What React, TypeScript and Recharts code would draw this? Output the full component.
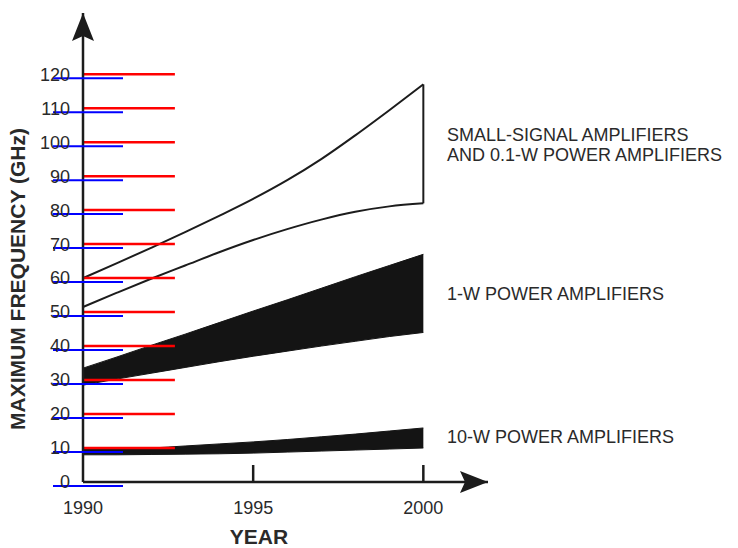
import React from 'react';
import { ComposedChart, Area, XAxis, YAxis, ReferenceLine } from 'recharts';

const years = [1990, 1991, 1992, 1993, 1994, 1995, 1996, 1997, 1998, 1999, 2000];
// small-signal and 0.1-W band (outlined)
const smallSignalHigh = [60, 64.4, 68.9, 73.5, 78.3, 83.3, 88.8, 95, 102, 109.4, 117];
const smallSignalLow = [51.5, 55.7, 59.8, 63.7, 67.6, 71.2, 74.4, 77.2, 79.5, 81.1, 82];
// 1-W band (solid)
const oneWattHigh = [33.5, 36.8, 40.2, 43.5, 46.9, 50.3, 53.6, 57, 60.4, 63.7, 67];
const oneWattLow = [28.5, 30.3, 32, 33.7, 35.4, 37, 38.5, 40, 41.4, 42.8, 44];
// 10-W band (solid)
const tenWattHigh = [9.8, 9.7, 10, 10.6, 11.2, 11.8, 12.5, 13.3, 14.1, 15, 15.9];
const tenWattLow = [8, 8, 8.1, 8.2, 8.3, 8.5, 8.8, 9.1, 9.4, 9.7, 10];

const yTicks = [0, 10, 20, 30, 40, 50, 60, 70, 80, 90, 100, 110, 120];
const xTicks = [1990, 1995, 2000];

const INK = '#1c1c1c';
const TEXT = '#2a2a2a';
const FONT = '"Liberation Sans", Arial, Helvetica, sans-serif';
const Y_TICK_LEN = 0.45;

const data = years.map((year, i) => ({
  year,
  small: [smallSignalLow[i], smallSignalHigh[i]],
  oneW: [oneWattLow[i], oneWattHigh[i]],
  tenW: [tenWattLow[i], tenWattHigh[i]],
}));

const last = years.length - 1;

function YTick(props: any) {
  const x = Number(props.x);
  const y = Number(props.y);
  return (
    <g>
      <line x1={x - 30} x2={x + 40} y1={y + 4} y2={y + 4} stroke="blue" strokeWidth={2} />
      <text x={x - 13} y={y} dy={6.4} textAnchor="end" fontSize={18} fill={TEXT} fontFamily={FONT}>
        {props.payload.value}
      </text>
    </g>
  );
}

function XTick(props: any) {
  const x = Number(props.x);
  const y = Number(props.y);
  const value = Number(props.payload.value);
  return (
    <g>
      {value !== xTicks[0] && <line x1={x} x2={x} y1={y} y2={y - 17} stroke={INK} strokeWidth={2.5} />}
      <text x={x} y={y + 31.5} textAnchor="middle" fontSize={18} fill={TEXT} fontFamily={FONT}>
        {value}
      </text>
    </g>
  );
}

export default function App() {
  return (
    <div style={{ position: 'absolute', left: 0, top: 0, width: 738, height: 548, background: '#fff' }}>
      <ComposedChart
        width={738}
        height={548}
        data={data}
        margin={{ top: 13, right: 250, bottom: 6, left: 23 }}
      >
        <defs>
          <marker
            id="arrowHead"
            markerWidth={30}
            markerHeight={22}
            refX={28}
            refY={11}
            orient="auto-start-reverse"
            markerUnits="userSpaceOnUse"
          >
            <path d="M0,0 L28,11 L0,22 L5,11 Z" fill={INK} />
          </marker>
        </defs>
        <XAxis
          dataKey="year"
          type="number"
          domain={[1990, 2001.9]}
          ticks={xTicks}
          interval={0}
          height={60}
          tickSize={0}
          tickMargin={0}
          tickLine={false}
          tick={<XTick />}
          axisLine={{ stroke: INK, strokeWidth: 2.5, markerEnd: 'url(#arrowHead)' }}
        />
        <YAxis
          type="number"
          domain={[0, 138]}
          ticks={yTicks}
          interval={0}
          width={60}
          tickSize={0}
          tickMargin={0}
          tickLine={false}
          tick={<YTick />}
          axisLine={{ stroke: INK, strokeWidth: 2.5, markerStart: 'url(#arrowHead)' }}
        />
        {yTicks
          .filter((v) => v > 0)
          .map((v) => (
            <ReferenceLine
              key={v}
              ifOverflow="visible"
              segment={[
                { x: years[0], y: v },
                { x: years[0] + Y_TICK_LEN * 6, y: v },
              ]}
              stroke="red"
              strokeWidth={2.5}
            />
          ))}
        <Area
          dataKey="small"
          type="monotone"
          fill="none"
          stroke={INK}
          strokeWidth={2}
          isAnimationActive={false}
          dot={false}
          activeDot={false}
        />
        <ReferenceLine
          segment={[
            { x: years[last], y: smallSignalLow[last] },
            { x: years[last], y: smallSignalHigh[last] },
          ]}
          stroke={INK}
          strokeWidth={2}
        />
        <Area
          dataKey="oneW"
          type="monotone"
          fill="#141414"
          fillOpacity={1}
          stroke="#141414"
          strokeWidth={1}
          isAnimationActive={false}
          dot={false}
          activeDot={false}
        />
        <Area
          dataKey="tenW"
          type="monotone"
          fill="#141414"
          fillOpacity={1}
          stroke="#141414"
          strokeWidth={1}
          isAnimationActive={false}
          dot={false}
          activeDot={false}
        />
      </ComposedChart>
      <svg
        width={738}
        height={548}
        style={{ position: 'absolute', left: 0, top: 0, pointerEvents: 'none' }}
      >
        <text
          transform="translate(25, 279) rotate(-90)"
          textAnchor="middle"
          fontSize={21}
          fontWeight="bold"
          fill={TEXT}
          fontFamily={FONT}
        >
          MAXIMUM FREQUENCY (GHz)
        </text>
        <text x={259} y={544} textAnchor="middle" fontSize={21} fontWeight="bold" fill={TEXT} fontFamily={FONT}>
          YEAR
        </text>
        <g fontSize={18} fill={TEXT} fontFamily={FONT}>
          <text x={447} y={141}>SMALL-SIGNAL AMPLIFIERS</text>
          <text x={447} y={161}>AND 0.1-W POWER AMPLIFIERS</text>
          <text x={447} y={300}>1-W POWER AMPLIFIERS</text>
          <text x={447} y={443}>10-W POWER AMPLIFIERS</text>
        </g>
      </svg>
    </div>
  );
}
